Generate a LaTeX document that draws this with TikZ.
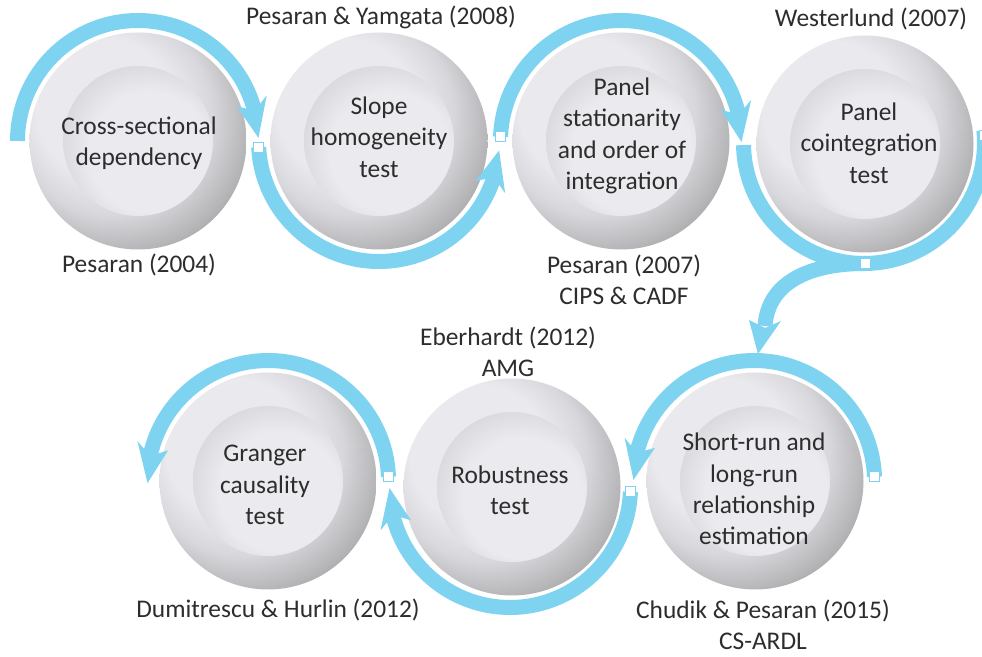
\documentclass[tikz,border=0pt]{standalone}
\usepackage{fontspec}
\setmainfont{Carlito}
\usetikzlibrary{calc}
\definecolor{arcblue}{RGB}{126,211,240}
\definecolor{txt}{RGB}{45,45,45}
\definecolor{rA}{RGB}{234,234,238}
\definecolor{rB}{RGB}{216,216,220}
\definecolor{rC}{RGB}{180,180,183}
\definecolor{rD}{RGB}{142,142,144}
\definecolor{rE}{RGB}{96,96,96}
\definecolor{rF}{RGB}{85,85,85}
\definecolor{dA}{RGB}{235,235,239}
\definecolor{dB}{RGB}{208,208,212}
\pgfdeclareradialshading{ringshade}{\pgfpoint{-11bp}{11bp}}{color(0bp)=(rA); color(16bp)=(rA); color(23bp)=(rB); color(30bp)=(rC); color(36bp)=(rD); color(42bp)=(rE); color(50bp)=(rF)}
\pgfdeclareradialshading{diskshade}{\pgfpoint{6bp}{-6bp}}{color(0bp)=(dA); color(20bp)=(dA); color(34bp)=(dB); color(50bp)=(dB)}
\newcommand{\ringarrow}[5]{%
  \draw[band] ($(#1)+(#3:#2)$) arc[start angle=#3, end angle={#4-(#5)*11}, radius=#2];
  \fill[arcblue] ($(#1)+({#4-(#5)*18}:{#2+16})$) -- ($(#1)+(#4:#2)$) -- ($(#1)+({#4-(#5)*18}:{#2-16})$) -- ($(#1)+({#4-(#5)*13}:#2)$) -- cycle;}
\begin{document}
\begin{tikzpicture}[x=1bp,y=1bp,
  ball/.style={circle, shade, shading=ringshade, minimum size=217bp, inner sep=0pt},
  disk/.style={circle, shade, shading=diskshade, minimum size=150bp, inner sep=0pt},
  lbl/.style={text=txt, font=\fontsize{25.5}{31.5}\selectfont, align=center, inner sep=0pt},
  band/.style={draw=arcblue, line width=15bp, line cap=butt},
  sq/.style={rectangle, draw=arcblue, fill=white, line width=1bp, minimum size=10bp, inner sep=0pt}]
\useasboundingbox (0,0) rectangle (982,657);
\fill[white] (0,0) rectangle (982,657);
% arc centres
\coordinate (a1) at (138,516);
\coordinate (a2) at (379,516);
\coordinate (a3) at (621,516);
\coordinate (a4) at (864,514);
\coordinate (a5) at (268,176);
\coordinate (a6) at (510,170);
\coordinate (a7) at (754,176);
% circles
\node[ball] (n1) at (138,516) {};
\node[ball] (n2) at (379,516) {};
\node[ball] (n3) at (621,516) {};
\node[ball] (n4) at (865,513) {};
\node[ball] (n5) at (268,176) {};
\node[ball] (n6) at (512,170) {};
\node[ball] (n7) at (755,176) {};
\node[disk] (d1) at (n1) {};
\node[disk] (d2) at (n2) {};
\node[disk] (d3) at (n3) {};
\node[disk] (d4) at (n4) {};
\node[disk] (d5) at (n5) {};
\node[disk] (d6) at (n6) {};
\node[disk] (d7) at (n7) {};
% circle texts
\node[lbl] (t1) at (139,514) {Cross-sectional\\dependency};
\node[lbl] (t2) at (379,520) {Slope\\homogeneity\\test};
\node[lbl] (t3) at (622,521) {Panel\\stationarity\\and order of\\integration};
\node[lbl] (t4) at (869,514) {Panel\\cointegration\\test};
\node[lbl] (t5) at (265,172) {Granger\\causality\\test};
\node[lbl] (t6) at (510,167) {Robustness\\test};
\node[lbl] (t7) at (754,168) {Short-run and\\long-run\\relationship\\estimation};
% reference labels
\node[lbl] (l1) at (139,392) {Pesaran (2004)};
\node[lbl] (l2) at (381,640) {Pesaran \& Yamgata (2008)};
\node[lbl] (l3) at (624,377) {Pesaran (2007)\\CIPS \& CADF};
\node[lbl] (l4) at (871,638) {Westerlund (2007)};
\node[lbl] (l5) at (508,305) {Eberhardt (2012)\\AMG};
\node[lbl] (l6) at (278,47) {Dumitrescu \& Hurlin (2012)};
\node[lbl] (l7) at (763,32) {Chudik \& Pesaran (2015)\\CS-ARDL};
% arcs
\ringarrow{a1}{120.5}{180}{1.5}{-1}
\ringarrow{a2}{120.5}{183}{355.5}{1}
\ringarrow{a3}{120.5}{178}{-0.5}{-1}
\draw[band] ($(a4)+(181:120.5)$) arc[start angle=181, end angle=366, radius=120.5];
\ringarrow{a7}{120.5}{2}{179.5}{1}
\ringarrow{a6}{120.5}{357.7}{180.5}{-1}
\ringarrow{a5}{120.5}{2}{181}{1}
% branch from circle 4 to circle 7
\node[sq] (sb) at (865,393.5) {};
\coordinate (bn) at (765,329);
\coordinate (bt) at (758,303);
\draw[band] (sb.center) .. controls (810,393.5) and (768,375) .. ($(bn)+(0,2)$);
\fill[arcblue] (749,337) -- (bt) -- (781,336) -- (bn) -- cycle;
\node[sq] at (sb) {};
% connector squares
\node[sq] (s12) at (258.7,509.7) {};
\node[sq] (s23) at (500.6,520.2) {};
\node[sq] (s4) at (984.3,521.4) {};
\node[sq] (s7) at (874.4,180.2) {};
\node[sq] (s6) at (630.4,165.2) {};
\node[sq] (s5) at (388.4,180.2) {};
\end{tikzpicture}
\end{document}
